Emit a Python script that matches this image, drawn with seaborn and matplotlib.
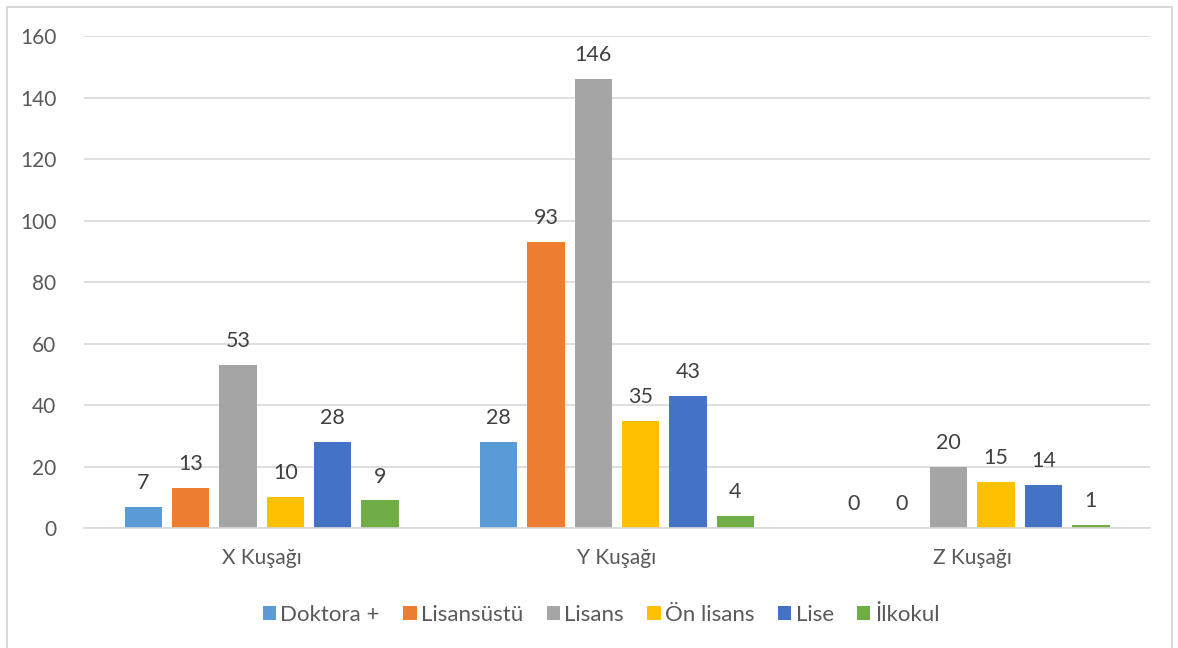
import matplotlib
matplotlib.use("Agg")
import matplotlib.pyplot as plt
import seaborn as sns
import pandas as pd
from matplotlib.patches import Rectangle

categories = ["X Kuşağı", "Y Kuşağı", "Z Kuşağı"]
series = ["Doktora +", "Lisansüstü", "Lisans", "Ön lisans", "Lise", "İlkokul"]
doktora = [7, 28, 0]
lisansustu = [13, 93, 0]
lisans = [53, 146, 20]
onlisans = [10, 35, 15]
lise = [28, 43, 14]
ilkokul = [9, 4, 1]
values = [doktora, lisansustu, lisans, onlisans, lise, ilkokul]
colors = ["#5B9BD5", "#ED7D31", "#A5A5A5", "#FFC000", "#4472C4", "#70AD47"]
yticks = [0, 20, 40, 60, 80, 100, 120, 140, 160]

rows = []
for s, vals in zip(series, values):
    for c, v in zip(categories, vals):
        rows.append({"cat": c, "series": s, "value": v})
df = pd.DataFrame(rows)

sns.set_theme(style="white")
plt.rcParams["font.family"] = ["Lato", "DejaVu Sans"]

fig = plt.figure(figsize=(11.78, 6.48), dpi=100)
ax = fig.add_axes([0.0713, 0.185, 0.905, 0.759])

sns.barplot(data=df, x="cat", y="value", hue="series", order=categories,
            hue_order=series, palette=colors, width=0.8, gap=0.21,
            saturation=1, linewidth=0, ax=ax, legend=True)

for cont in ax.containers:
    ax.bar_label(cont, padding=10, fontsize=15.5, color="#404040")

ax.set_ylim(0, 160)
ax.set_yticks(yticks)
ax.set_xlim(-0.5, 2.5)
ax.grid(axis="y", color="#D9D9D9", linewidth=1.2)
ax.set_axisbelow(True)
for sp in ["top", "right", "left"]:
    ax.spines[sp].set_visible(False)
ax.spines["bottom"].set_color("#D9D9D9")
ax.spines["bottom"].set_linewidth(1.2)
ax.tick_params(axis="both", length=0, labelsize=15, colors="#595959")
ax.tick_params(axis="y", pad=20)
ax.tick_params(axis="x", pad=14)
ax.set_xlabel("")
ax.set_ylabel("")

ax.legend(loc="upper center", bbox_to_anchor=(0.485, -0.115), ncol=6, frameon=False,
          fontsize=16, handlelength=0.6, handleheight=0.6, handletextpad=0.2,
          columnspacing=1.05, labelcolor="#595959")

fig.patches.append(Rectangle((7 / 1178, -0.05), (1172 - 7) / 1178, 1 - 7 / 648 + 0.05,
                             transform=fig.transFigure, fill=False,
                             edgecolor="#D9D9D9", linewidth=1.5))

fig.savefig("out.png", dpi=100)
